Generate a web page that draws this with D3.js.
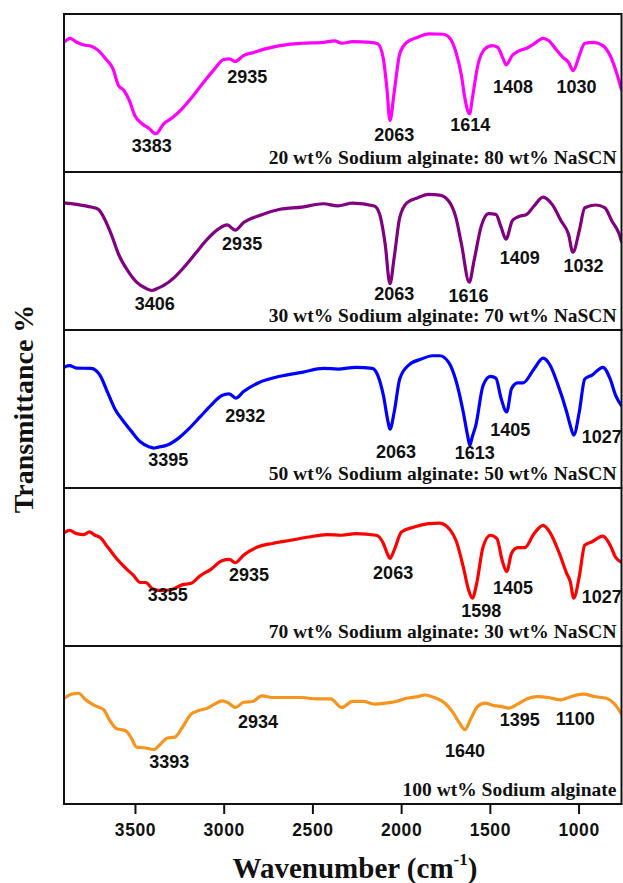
<!DOCTYPE html>
<html>
<head>
<meta charset="utf-8">
<script src="https://cdn.jsdelivr.net/npm/d3@7"></script>
<style>
  html, body { margin: 0; padding: 0; background: #fff; }
  svg { display: block; }
</style>
</head>
<body>
<svg id="chart" width="623" height="883"></svg>
<script>
// ---- FTIR spectra: wavenumber (cm-1) and transmittance (arbitrary panel units) ----
const sampleNames = [
  "20 wt% Sodium alginate: 80 wt% NaSCN",
  "30 wt% Sodium alginate: 70 wt% NaSCN",
  "50 wt% Sodium alginate: 50 wt% NaSCN",
  "70 wt% Sodium alginate: 30 wt% NaSCN",
  "100 wt% Sodium alginate"
];

const wn20 = [3900,3865,3828,3788,3747,3706,3665,3624,3593,3562,3532,3501,3460,3420,3383,3338,3297,3235,3174,3113,3051,3000,2969,2935,2888,2826,2765,2683,2560,2438,2376,2335,2274,2172,2131,2100,2080,2063,2039,2008,1968,1906,1845,1763,1722,1691,1660,1640,1614,1599,1568,1528,1487,1456,1425,1408,1374,1333,1292,1251,1200,1169,1129,1088,1057,1030,996,965,914,863,822,781,758];
const t20  = [82.1,84.6,82.1,80.4,79.6,76.8,71.6,65.3,54.7,51.6,45.3,35.8,30.5,27.5,24.2,30.5,33.7,40,48,56.8,65.3,71.2,71.6,70.0,73.7,75.8,77.9,80,81.5,82.1,83,81.5,82.5,82.1,81.1,71.6,52.6,32.6,50.5,74.7,82.1,85.3,87.4,87.2,84.2,75.8,61.1,46.3,36.8,46.3,67.4,77.9,80,78.9,71.6,67.8,73.7,76.8,78.3,81.1,84.6,83.2,77.9,72.6,69.5,64.2,73.7,81.5,82.1,80,73.7,61.1,52];

const wn30 = [3900,3828,3747,3706,3675,3634,3593,3542,3491,3439,3406,3370,3338,3276,3215,3154,3092,3031,2980,2935,2888,2806,2683,2560,2438,2356,2274,2151,2121,2090,2063,2039,2008,1968,1906,1845,1783,1732,1691,1660,1616,1589,1548,1507,1466,1436,1409,1374,1344,1292,1251,1200,1149,1098,1057,1032,996,965,904,853,812,771,758];
const t30  = [80.5,79.5,77.8,76.4,71.1,60.7,48.1,37.7,30.3,26.4,25.0,26.5,28.2,33.5,40.8,49.2,57.5,63.8,66.5,63.2,68,72.2,76.4,77.8,79.9,78.5,80.3,78.5,73.2,54.4,29.3,46,71.1,80.5,83.7,85.8,85.4,81.6,71.1,54.4,30.3,43.9,65.9,73.6,73.2,64.9,57.5,69,71.5,73.2,78.5,84.1,79.5,69,60.7,49.2,62.8,77.4,79.1,77.4,69,60.7,56];

const wn50 = [3900,3869,3828,3747,3696,3655,3614,3562,3521,3470,3419,3395,3368,3317,3256,3194,3133,3072,3010,2969,2932,2888,2806,2683,2560,2438,2356,2254,2162,2131,2100,2072,2063,2039,2008,1957,1886,1824,1783,1732,1691,1650,1625,1613,1600,1579,1538,1497,1466,1436,1405,1378,1344,1313,1251,1200,1159,1118,1067,1047,1027,996,965,924,863,822,791,758];
const t50  = [76.4,77.4,75.9,75.7,71.1,60.7,50.2,41.8,36,29.3,26.0,25.3,25.9,27.2,31.4,37.7,45,52.3,58.6,59.6,56.9,61.1,66.5,70.7,73.2,75.7,75.3,76.4,75.7,71.1,58.6,41,37.2,48.1,69,77.8,81.6,83.7,83.7,79.5,68,48.1,33,27,32,39.7,64.9,70.7,69.5,56.5,48.1,62.8,66.5,66.5,75.3,82.2,77.4,65.9,48.1,39.7,33.5,48.1,69,71.5,76.4,69,58.6,52];

const wn70 = [3900,3869,3828,3788,3757,3726,3696,3655,3604,3552,3511,3470,3439,3399,3355,3297,3235,3184,3133,3072,3010,2969,2935,2888,2806,2724,2622,2520,2417,2335,2254,2141,2100,2076,2063,2039,1998,1927,1845,1783,1722,1691,1650,1620,1598,1574,1538,1497,1460,1431,1405,1378,1344,1303,1251,1200,1159,1108,1067,1047,1027,996,965,924,863,822,791,758];
const t70  = [71.5,73.2,71.1,70.5,72.2,70.1,68.6,62.8,55.4,49.2,45,40.2,40.2,36,35.1,35.6,38.7,39.7,44.4,48.5,54,54.8,52.7,57.5,62.8,64.9,66.9,69,70.5,70.1,71.1,70.1,64.9,58,55.4,60.7,72.2,75.3,77.4,77.8,73.2,66.9,50.2,35.6,30.3,39.7,62.8,70.1,68,54.4,47.1,58.6,62.3,62.3,71.1,76.4,71.5,58.6,46,40.8,30.3,43.9,63.8,66,69.5,63.8,56.1,53];

const wn100 = [3900,3859,3818,3777,3726,3675,3644,3604,3552,3521,3491,3450,3393,3358,3317,3276,3235,3184,3143,3092,3051,3010,2980,2934,2888,2837,2785,2724,2642,2560,2479,2397,2335,2274,2213,2151,2090,2029,1968,1906,1865,1814,1753,1712,1671,1640,1610,1569,1528,1477,1426,1395,1344,1292,1231,1169,1100,1057,975,904,843,802,758];
const t100 = [66.9,69.5,70.1,65.9,62.3,59.6,53.3,47.7,46.4,41.8,36,35.6,34.5,37.7,41.8,42.3,48.1,56.9,59,60.7,63.2,65.3,64.4,61.1,64.4,64.9,68.4,67.4,67.4,67.4,66.5,66.5,61.1,64.9,64.9,63.2,63.8,64.9,66.9,68,69,67.4,63.8,58.6,51.3,47.1,53.3,61.7,63.8,62.3,61.5,60.7,63.2,66.5,68,67.4,65.9,67.4,69.5,67.9,66.9,63.8,57];

// Peak assignments written on each spectrum
const peaks20  = [3383, 2935, 2063, 1614, 1408, 1030];
const peaks30  = [3406, 2935, 2063, 1616, 1409, 1032];
const peaks50  = [3395, 2932, 2063, 1613, 1405, 1027];
const peaks70  = [3355, 2935, 2063, 1598, 1405, 1027];
const peaks100 = [3393, 2934, 1640, 1395, 1100];

// Label anchor points (label centre) in axis units: [wavenumber, transmittance]
const anchors20  = [[3405,16.7],[2867,60.7],[2039,24],[1610,30.3],[1370,54.4],[1012,54.4]];
const anchors30  = [[3389,16.7],[2896,54.8],[2039,23.4],[1620,22],[1331,46],[972,40.8]];
const anchors50  = [[3313,17.8],[2878,46],[2029,22.8],[1585,22.6],[1385,37],[869,32.4]];
const anchors70  = [[3315,32.4],[2857,45],[2045,46.4],[1548,22.6],[1370,37],[869,31.4]];
const anchors100 = [[3307,26.8],[2806,52.3],[1640,33.9],[1331,53.3],[1019,54.4]];

const xTicks = [3500, 3000, 2500, 2000, 1500, 1000];
const xDomain = [3900, 758];

// ---- styling ----
const lineColors = ["#ff00ff", "#800080", "#0000ff", "#ff0000", "#f7941d"];
const sansFont = "'Liberation Sans', Arial, sans-serif";
const serifFont = "'Liberation Serif', 'Times New Roman', serif";

const series = [
  { wn: wn20,  t: t20,  peaks: peaks20,  anchors: anchors20 },
  { wn: wn30,  t: t30,  peaks: peaks30,  anchors: anchors30 },
  { wn: wn50,  t: t50,  peaks: peaks50,  anchors: anchors50 },
  { wn: wn70,  t: t70,  peaks: peaks70,  anchors: anchors70 },
  { wn: wn100, t: t100, peaks: peaks100, anchors: anchors100 }
];

// ---- layout ----
const plotLeft = 64, plotRight = 621.5, plotTop = 14, panelH = 158;
const plotBottom = plotTop + panelH * series.length;

const svg = d3.select("#chart");
const x = d3.scaleLinear().domain(xDomain).range([plotLeft, plotRight]);

svg.append("defs").append("clipPath").attr("id", "plotClip")
  .append("rect").attr("x", plotLeft).attr("y", plotTop)
  .attr("width", plotRight - plotLeft).attr("height", plotBottom - plotTop);

series.forEach((s, i) => {
  const y0 = plotTop + i * panelH;
  const y = d3.scaleLinear().domain([0, 100]).range([y0 + panelH, y0]);
  const g = svg.append("g");

  const pts = s.wn.map((w, k) => [w, s.t[k]]).sort((a, b) => a[0] - b[0]);
  const line = d3.line()
    .x(d => x(d[0]))
    .y(d => y(d[1]))
    .curve(d3.curveMonotoneX);

  g.append("path")
    .attr("d", line(pts))
    .attr("clip-path", "url(#plotClip)")
    .attr("fill", "none")
    .attr("stroke", lineColors[i])
    .attr("stroke-width", 3.2)
    .attr("stroke-linejoin", "round")
    .attr("stroke-linecap", "round");

  g.selectAll("text.peak")
    .data(s.peaks)
    .join("text")
    .attr("class", "peak")
    .attr("x", (d, k) => x(s.anchors[k][0]))
    .attr("y", (d, k) => y(s.anchors[k][1]))
    .attr("dy", "0.36em")
    .attr("text-anchor", "middle")
    .attr("font-family", sansFont)
    .attr("font-weight", "bold")
    .attr("font-size", 18)
    .attr("fill", "#111")
    .text(d => d);

  g.append("text")
    .attr("x", plotRight - 5)
    .attr("y", y0 + panelH - 8)
    .attr("text-anchor", "end")
    .attr("font-family", serifFont)
    .attr("font-weight", "bold")
    .attr("font-size", 19.5)
    .attr("fill", "#111")
    .text(sampleNames[i]);

  g.append("rect")
    .attr("x", plotLeft).attr("y", y0)
    .attr("width", plotRight - plotLeft).attr("height", panelH)
    .attr("fill", "none")
    .attr("stroke", "#111")
    .attr("stroke-width", 2);
});

// ---- x axis ----
const axis = d3.axisBottom(x)
  .tickValues(xTicks)
  .tickSize(10)
  .tickSizeOuter(0)
  .tickPadding(10)
  .tickFormat(d3.format("d"));

const ax = svg.append("g")
  .attr("transform", `translate(0,${plotBottom})`)
  .call(axis);
ax.select(".domain").remove();
ax.selectAll(".tick line").attr("stroke", "#111").attr("stroke-width", 2);
ax.selectAll(".tick text")
  .attr("font-family", sansFont)
  .attr("font-weight", "bold")
  .attr("font-size", 17.5)
  .attr("letter-spacing", "0.6px")
  .attr("fill", "#111");

// ---- axis titles ----
const xt = svg.append("text")
  .attr("x", 355)
  .attr("y", 878)
  .attr("text-anchor", "middle")
  .attr("font-family", serifFont)
  .attr("font-weight", "bold")
  .attr("font-size", 29)
  .attr("fill", "#111");
xt.append("tspan").text("Wavenumber (cm");
xt.append("tspan").attr("font-size", 17).attr("dy", -13).text("-1");
xt.append("tspan").attr("dy", 13).text(")");

svg.append("text")
  .attr("transform", `translate(33,${(plotTop + plotBottom) / 2}) rotate(-90)`)
  .attr("text-anchor", "middle")
  .attr("font-family", serifFont)
  .attr("font-weight", "bold")
  .attr("font-size", 28)
  .attr("fill", "#111")
  .text("Transmittance %");
</script>
</body>
</html>
